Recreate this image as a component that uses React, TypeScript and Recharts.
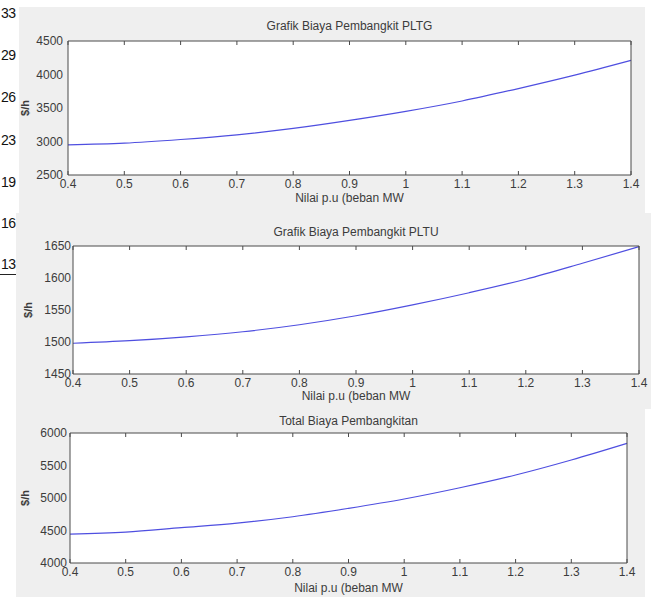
import { LineChart, Line, XAxis, YAxis } from "recharts"

const load = [0.4, 0.5, 0.6, 0.7, 0.8, 0.9, 1.0, 1.1, 1.2, 1.3, 1.4]
const pltgCost = [2950, 2975, 3030, 3100, 3195, 3315, 3450, 3605, 3790, 3990, 4210]
const pltuCost = [1498, 1502, 1508, 1516, 1527, 1541, 1558, 1577, 1598, 1623, 1649]
const totalCost = [4445, 4474, 4543, 4614, 4712, 4841, 4985, 5158, 5354, 5585, 5841]

const xTicks = [0.4, 0.5, 0.6, 0.7, 0.8, 0.9, 1, 1.1, 1.2, 1.3, 1.4]
const pltgTicks = [2500, 3000, 3500, 4000, 4500]
const pltuTicks = [1450, 1500, 1550, 1600, 1650]
const totalTicks = [4000, 4500, 5000, 5500, 6000]

const strayNumbers = [
  { text: "33", y: 13 },
  { text: "29", y: 55 },
  { text: "26", y: 97 },
  { text: "23", y: 140 },
  { text: "19", y: 182 },
  { text: "16", y: 223 },
  { text: "13", y: 264 },
]

const FONT = "'Liberation Sans', Arial, sans-serif"
const AXIS = "#4a4a4a"
const LABEL = "#3c3c3c"
const LINE = "#4f4fe0"

const noLabel = () => <g />

type PanelProps = {
  left: number
  top: number
  width: number
  height: number
  box: { top: number; left: number; right: number; bottom: number }
  values: number[]
  yTicks: number[]
  yTickGap: number
  title: string
  titleY: number
  xLabelY: number
  yLabelX: number
}

function Panel(p: PanelProps) {
  const data = load.map((x, i) => ({ x, cost: p.values[i] }))
  const yDomain = [p.yTicks[0], p.yTicks[p.yTicks.length - 1]]
  const plotW = p.width - p.box.left - p.box.right
  const plotH = p.height - p.box.top - p.box.bottom
  const cx = p.box.left + plotW / 2
  const cy = p.box.top + plotH / 2
  const tickStyle = { fontSize: 12, fill: LABEL, fontFamily: FONT }
  const textStyle = {
    position: "absolute" as const,
    transform: "translate(-50%, -50%)",
    whiteSpace: "nowrap" as const,
    fontSize: 12,
    fontFamily: FONT,
    color: LABEL,
  }
  // inward tick marks on all four sides, MATLAB style
  const inner = { tick: noLabel, tickSize: 4, mirror: true, interval: 0 as const, stroke: AXIS }
  return (
    <div
      style={{
        position: "absolute",
        left: p.left,
        top: p.top,
        width: p.width,
        height: p.height,
        background: "#efefef",
      }}
    >
      <div
        style={{
          position: "absolute",
          left: p.box.left,
          top: p.box.top,
          width: plotW,
          height: plotH,
          background: "#ffffff",
        }}
      />
      <div style={{ position: "absolute", left: 0, top: 0 }}>
        <LineChart
          width={p.width}
          height={p.height}
          data={data}
          margin={{ top: p.box.top, left: 0, right: p.box.right, bottom: 0 }}
        >
          <XAxis
            dataKey="x"
            type="number"
            domain={[0.4, 1.4]}
            ticks={xTicks}
            height={p.box.bottom}
            tickLine={false}
            tickSize={0}
            tickMargin={4}
            interval={0}
            stroke={AXIS}
            tick={tickStyle}
            tickFormatter={(v: number) => String(v)}
          />
          <XAxis
            xAxisId="bottomTicks"
            dataKey="x"
            type="number"
            domain={[0.4, 1.4]}
            ticks={xTicks}
            height={10}
            axisLine={false}
            {...inner}
          />
          <XAxis
            xAxisId="top"
            dataKey="x"
            type="number"
            orientation="top"
            domain={[0.4, 1.4]}
            ticks={xTicks}
            height={10}
            {...inner}
          />
          <YAxis
            type="number"
            domain={yDomain}
            ticks={p.yTicks}
            width={p.box.left}
            tickLine={false}
            tickSize={0}
            tickMargin={p.yTickGap - 4}
            interval={0}
            stroke={AXIS}
            tick={tickStyle}
          />
          <YAxis
            yAxisId="leftTicks"
            type="number"
            domain={yDomain}
            ticks={p.yTicks}
            width={10}
            axisLine={false}
            {...inner}
          />
          <YAxis
            yAxisId="right"
            type="number"
            orientation="right"
            domain={yDomain}
            ticks={p.yTicks}
            width={10}
            {...inner}
          />
          <Line
            type="monotone"
            dataKey="cost"
            stroke={LINE}
            strokeWidth={1.2}
            dot={false}
            isAnimationActive={false}
          />
        </LineChart>
      </div>
      <div style={{ ...textStyle, left: cx, top: p.titleY }}>{p.title}</div>
      <div style={{ ...textStyle, left: cx, top: p.xLabelY }}>Nilai p.u (beban MW</div>
      <div
        style={{
          ...textStyle,
          left: p.yLabelX,
          top: cy,
          transform: "translate(-50%, -50%) rotate(-90deg)",
          fontWeight: "bold",
          fontSize: 11,
        }}
      >
        $/h
      </div>
    </div>
  )
}

export default function App() {
  return (
    <div
      style={{
        position: "absolute",
        left: 0,
        top: 0,
        width: 651,
        height: 597,
        background: "#ffffff",
        overflow: "hidden",
      }}
    >
      <Panel
        left={19}
        top={7}
        width={626}
        height={206}
        box={{ top: 34, left: 49, right: 14, bottom: 38 }}
        values={pltgCost}
        yTicks={pltgTicks}
        yTickGap={9}
        title="Grafik Biaya Pembangkit PLTG"
        titleY={19}
        xLabelY={191}
        yLabelX={6}
      />
      <Panel
        left={16}
        top={213}
        width={635}
        height={196}
        box={{ top: 33, left: 57, right: 12, bottom: 35 }}
        values={pltuCost}
        yTicks={pltuTicks}
        yTickGap={6}
        title="Grafik Biaya Pembangkit PLTU"
        titleY={19}
        xLabelY={183}
        yLabelX={12}
      />
      <Panel
        left={16}
        top={409}
        width={629}
        height={188}
        box={{ top: 24, left: 54, right: 18, bottom: 34 }}
        values={totalCost}
        yTicks={totalTicks}
        yTickGap={7}
        title="Total Biaya Pembangkitan"
        titleY={12}
        xLabelY={179}
        yLabelX={9}
      />
      {strayNumbers.map((s) => (
        <div
          key={s.text}
          style={{
            position: "absolute",
            left: 1,
            top: s.y,
            transform: "translateY(-50%)",
            fontSize: 14,
            fontFamily: FONT,
            color: "#111",
            letterSpacing: -0.5,
          }}
        >
          {s.text}
        </div>
      ))}
      <div style={{ position: "absolute", left: 0, top: 274, width: 16, height: 1, background: "#222" }} />
    </div>
  )
}
